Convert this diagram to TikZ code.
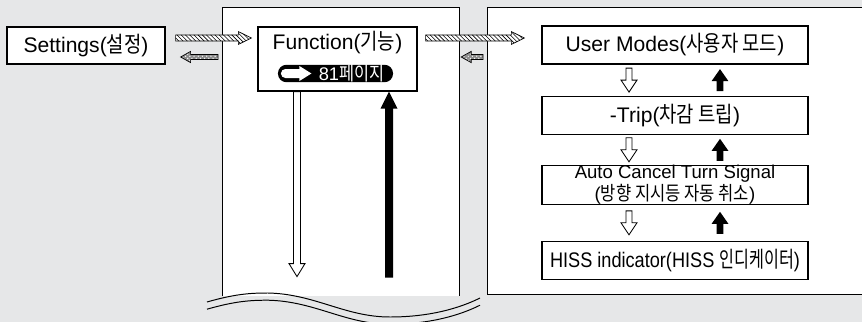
\documentclass[tikz,border=0pt]{standalone}
\usepackage{graphicx}
\usepackage{fontspec}
\setmainfont{Liberation Sans}
\newfontfamily\krfont{Noto Sans CJK KR}[Scale=1.05, FakeStretch=0.85]
\newcommand{\ko}[1]{{\krfont #1}}
\usepackage{tikz}
\usetikzlibrary{positioning, calc, patterns}
\definecolor{bggray}{RGB}{230,231,232}

% block arrow: style, tail, tip, shaft half width, head half width, head length
\newcommand{\blockarrow}[6]{%
  \coordinate (hb) at ($(#3)!#6!(#2)$);
  \path[#1] ($(#2)!#4!90:(#3)$) -- ($(hb)!#4!90:(#3)$) -- ($(hb)!#5!90:(#3)$) -- (#3)
    -- ($(hb)!#5!-90:(#3)$) -- ($(hb)!#4!-90:(#3)$) -- ($(#2)!#4!-90:(#3)$) -- cycle;}

\begin{document}
\begin{tikzpicture}[x=0.025cm, y=-0.025cm, thick,
    box/.style={draw, line width=0.85pt, fill=white, rectangle, minimum width=6.65cm, minimum height=0.95cm, inner sep=0pt, align=center, font=\fontsize{15}{15}\selectfont},
    panel/.style={fill=white, rectangle, inner sep=0pt, anchor=north west},
    edge/.style={draw, line width=0.7pt},
    pill/.style={fill=black, text=white, rectangle, rounded corners=0.21cm, minimum width=2.875cm, minimum height=0.425cm, inner sep=0pt, font=\fontsize{13}{13}\selectfont},
    hollow/.style={draw, fill=white, line width=0.6pt, line join=miter},
    solid/.style={fill=black},
    hatch/.style={draw, line width=0.5pt, preaction={fill=white}, pattern=north west lines},
    dots/.style={draw, line width=0.5pt, preaction={fill=black!45}, pattern=crosshatch dots, pattern color=white},
    wave/.style={draw, line width=0.7pt}
    ]
    \fill[bggray] (0,0) rectangle (862,322);
    \useasboundingbox (0,0) rectangle (862,322);

    % panels
    \node[panel, minimum width=5.9cm, minimum height=7.2cm] (midpanel) at (222,7) {};
    \draw[edge] (midpanel.south west) -- (midpanel.north west) -- (midpanel.north east) -- (midpanel.south east);
    \node[panel, minimum width=9.5cm, minimum height=7.15cm] (rightpanel) at (487,7) {};
    \draw[edge] (rightpanel.north east) -- (rightpanel.north west) -- (rightpanel.south west) -- (rightpanel.south east);

    % boxes
    \node[box, minimum width=3.95cm, minimum height=0.925cm] (settings) at (86,45.5) {Settings(\ko{설정})};
    \node[box, minimum width=3.975cm, minimum height=1.6cm] (func) at (337.5,59) {};
    \node[font=\fontsize{15}{15}\selectfont, inner sep=0pt] (functitle) at (337.5,43) {Function(\ko{기능})};
    \node[pill] (page) at (335.5,73.5) {\hspace{0.8cm}81\ko{페이지}};
    \fill[white] ($(page.west)+(8,-4.5)$) -- ($(page.west)+(22,-4.5)$) -- ($(page.west)+(22,-7.5)$) -- ($(page.west)+(34,0)$)
      -- ($(page.west)+(22,7.5)$) -- ($(page.west)+(22,4.5)$) -- ($(page.west)+(8,4.5)$) arc[start angle=270, end angle=90, radius=0.1125cm] -- cycle;

    \node[box] (um) at (675,45) {User Modes(\ko{사용자 모드})};
    \node[box, below=0.775cm of um] (trip) {-Trip(\ko{차감 트립})};
    \node[box, below=0.75cm of trip, font=\fontsize{13.2}{12.2}\selectfont] (acts) {Auto Cancel Turn Signal\\(\ko{방향 지시등 자동 취소})};
    \node[box, below=0.9cm of acts] (hiss) {\scalebox{0.86}[1]{HISS indicator(HISS \ko{인디케이터})}};

    % arrows in the right panel
    \foreach \a/\b in {um/trip, trip/acts, acts/hiss} {
      \coordinate (gap) at ($(\a.south)!0.5!(\b.north)$);
      \coordinate (dtail) at ($(gap)+(-46,-12)$);
      \coordinate (dtip) at ($(gap)+(-46,12)$);
      \blockarrow{hollow}{dtail}{dtip}{0.075cm}{0.2cm}{0.3cm}
      \coordinate (utail) at ($(gap)+(45,11)$);
      \coordinate (utip) at ($(gap)+(45,-11)$);
      \blockarrow{solid}{utail}{utip}{0.085cm}{0.21cm}{0.3cm}
    }

    % arrows in the middle panel
    \coordinate (dtop) at ($(func.south)+(-40.5,0)$);
    \coordinate (dend) at ($(func.south)+(-40.5,185)$);
    \blockarrow{hollow}{dtop}{dend}{0.0875cm}{0.2cm}{0.325cm}
    \coordinate (ubot) at ($(func.south)+(51.5,186)$);
    \coordinate (utop) at ($(func.south)+(51.5,0)$);
    \blockarrow{solid}{ubot}{utop}{0.1cm}{0.2125cm}{0.425cm}

    % hatched arrows between panels
    \coordinate (sout) at ($(settings.east)+(10,-7.5)$);
    \coordinate (fin) at ($(sout -| func.west)+(-6,0)$);
    \blockarrow{hatch}{sout}{fin}{0.075cm}{0.16cm}{0.325cm}
    \coordinate (sin) at ($(settings.east)+(15,11.5)$);
    \coordinate (fout) at ($(sin -| midpanel.west)+(-4,0)$);
    \blockarrow{dots}{fout}{sin}{0.0625cm}{0.14cm}{0.25cm}
    \coordinate (fnext) at ($(sout -| func.east)+(8,0)$);
    \coordinate (uin) at ($(sout -| um.west)+(-17,0)$);
    \blockarrow{hatch}{fnext}{uin}{0.075cm}{0.16cm}{0.325cm}
    \coordinate (fback) at ($(sin -| midpanel.east)+(2,0)$);
    \coordinate (uout) at ($(sin -| rightpanel.west)+(-4,0)$);
    \blockarrow{dots}{uout}{fback}{0.0625cm}{0.14cm}{0.25cm}

    % break lines
    \draw[wave] (207,302) .. controls (235,294) and (250,293) .. (268,293) .. controls (315,294) and (345,317) .. (390,317) .. controls (430,317) and (460,308) .. (480,298);
    \draw[wave, yshift=-0.18cm] (207,302) .. controls (235,294) and (250,293) .. (268,293) .. controls (315,294) and (345,317) .. (390,317) .. controls (430,317) and (460,308) .. (480,298);
\end{tikzpicture}
\end{document}
